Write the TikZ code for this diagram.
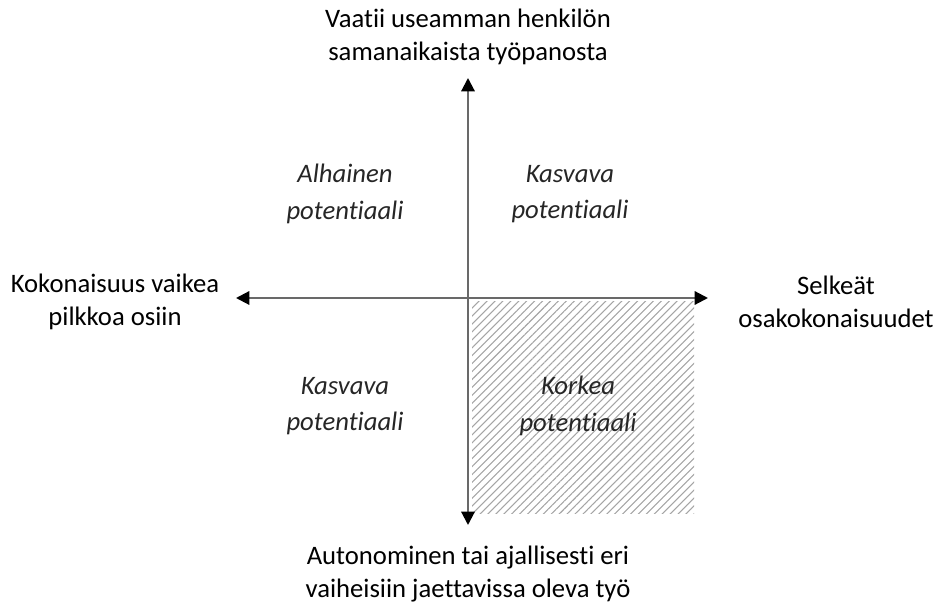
\documentclass[tikz,border=0pt]{standalone}
\usepackage{fontspec}
\setmainfont[Ligatures=CommonOff]{Carlito}
\usepackage{tikz}
\usetikzlibrary{arrows.meta, patterns.meta}
\definecolor{axisgray}{RGB}{105, 105, 105}
\definecolor{hatchgray}{RGB}{165, 165, 165}
\newcommand*{\fs}{20}

\begin{document}
\begin{tikzpicture}[
   x=0.75pt, y=-0.75pt,
   axislabel/.style={align=center, inner sep=0, text=black,
                     font=\fontsize{\fs}{25}\selectfont},
   quadlabel/.style={align=center, inner sep=0, text=black!85,
                     font=\fontsize{\fs}{27.5}\selectfont\itshape},
   axisline/.style={{Triangle[black, length=10pt, width=10pt]}-{Triangle[black, length=10pt, width=10pt]},
                    draw=axisgray, line width=1.6pt},
   hatchbox/.style={pattern={Lines[angle=45, distance=4.2pt, line width=0.8pt]},
                    pattern color=hatchgray}
  ]

  \useasboundingbox (0, 0) rectangle (933, 606);

  % Axis ends
  \coordinate (top) at (468, 78);
  \coordinate (bottom) at (468, 525);
  \coordinate (left) at (236, 298);
  \coordinate (right) at (708, 298);

  % Shaded quadrant
  \path[hatchbox] (472, 302) rectangle (694, 513);

  \foreach \B/\E in {bottom/top, left/right} {
    \draw[axisline] (\B) -- (\E);
  }

  % Axis labels
  \node (ytop) at (468, 37) [axislabel] {Vaatii useamman henkilön\\samanaikaista työpanosta};
  \node (ybot) at (468, 574) [axislabel] {Autonominen tai ajallisesti eri\\vaiheisiin jaettavissa oleva työ};
  \node (xleft) at (115, 302) [axislabel] {Kokonaisuus vaikea\\pilkkoa osiin};
  \node (xright) at (836, 302) [axislabel] {Selkeät\\osakokonaisuudet};

  % Quadrant labels
  \node (qtl) at (345, 194) [quadlabel] {Alhainen\\potentiaali};
  \node (qtr) at (570, 194) [quadlabel] {Kasvava\\potentiaali};
  \node (qbl) at (345, 406) [quadlabel] {Kasvava\\potentiaali};
  \node (qbr) at (578, 406) [quadlabel] {Korkea\\potentiaali};

\end{tikzpicture}
\end{document}
